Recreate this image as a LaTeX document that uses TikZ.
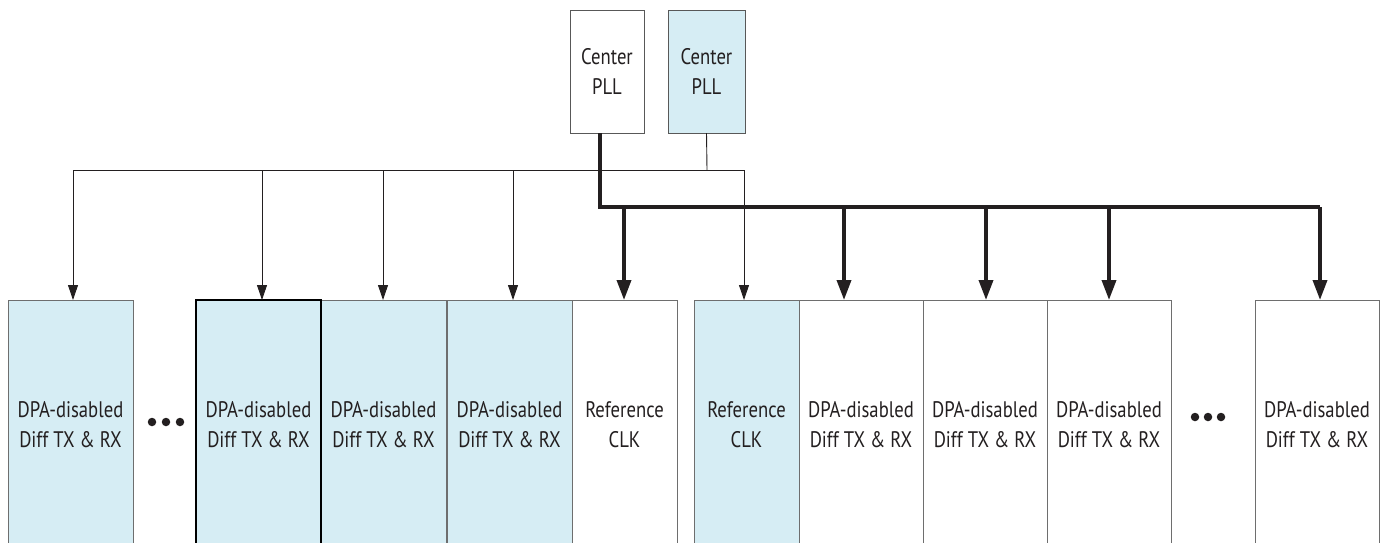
\documentclass[tikz,border=0pt]{standalone}
\usepackage{fontspec}
\setmainfont[FakeStretch=0.83]{PT Sans}
\usetikzlibrary{arrows.meta}
\definecolor{lblue}{RGB}{214,237,244}
\definecolor{edge}{RGB}{110,110,110}
\definecolor{ink}{RGB}{35,31,32}
\begin{document}
\begin{tikzpicture}[x=1pt,y=-1pt,
  box/.style={draw=edge,line width=1pt,rectangle,anchor=north west,inner sep=0pt,outer sep=0pt,
    minimum height=250,align=center,text=ink,font=\fontsize{22.5}{30}\selectfont},
  pll/.style={draw=edge!80!black,line width=1pt,rectangle,anchor=north west,inner sep=0pt,outer sep=0pt,
    minimum height=123,align=center,text=ink,font=\fontsize{22.5}{30}\selectfont},
  thinline/.style={line width=0.9pt,draw=ink},
  thinarrow/.style={line width=0.9pt,draw=ink,-{Triangle[length=15pt,width=10pt]}},
  thickline/.style={line width=3.6pt,draw=ink},
  thickarrow/.style={line width=3.6pt,draw=ink,-{Triangle[length=20pt,width=14pt]}},
  dot/.style={circle,fill=ink,inner sep=0pt,minimum size=8.5pt}]
\useasboundingbox (0,0) rectangle (1383,542);
% PLLs
\node[pll,minimum width=74] (pllA) at (570,10) {Center\\PLL};
\node[pll,minimum width=77,fill=lblue] (pllB) at (668,10) {Center\\PLL};
% boxes
\node[box,fill=lblue,minimum width=125] (b1) at (8,300) {DPA-disabled\\Diff TX \& RX};
\node[box,fill=lblue,minimum width=125] (b3) at (321,300) {DPA-disabled\\Diff TX \& RX};
\node[box,fill=lblue,minimum width=125] (b4) at (447,300) {DPA-disabled\\Diff TX \& RX};
\node[box,minimum width=105] (b5) at (572,300) {Reference\\CLK};
\node[box,fill=lblue,minimum width=105] (b6) at (694,300) {Reference\\CLK};
\node[box,minimum width=124] (b7) at (799,300) {DPA-disabled\\Diff TX \& RX};
\node[box,minimum width=124] (b8) at (923,300) {DPA-disabled\\Diff TX \& RX};
\node[box,minimum width=124] (b9) at (1047,300) {DPA-disabled\\Diff TX \& RX};
\node[box,minimum width=124] (b10) at (1255,300) {DPA-disabled\\Diff TX \& RX};
\node[box,fill=lblue,minimum width=125,draw=black,line width=1.5pt] (b2) at (196,300) {DPA-disabled\\Diff TX \& RX};
% dots
\node[dot] (d1) at (152,422) {};
\node[dot] (d2) at (166,422) {};
\node[dot] (d3) at (180,422) {};
\node[dot] (d4) at (1195,417) {};
\node[dot] (d5) at (1208,417) {};
\node[dot] (d6) at (1221,417) {};
% thin bus
\coordinate (tL) at (73,170);
\coordinate (tR) at (744,170);
\coordinate (tP) at (707,170);
\coordinate (t2) at (262,170);
\coordinate (t3) at (383,170);
\coordinate (t4) at (513,170);
\draw[thinline] (tL) -- (tR);
\draw[thinline] (pllB.south) -- (tP);
\draw[thinarrow] (tL) -- (tL |- b1.north);
\draw[thinarrow] (t2) -- (t2 |- b2.north);
\draw[thinarrow] (t3) -- (t3 |- b3.north);
\draw[thinarrow] (t4) -- (t4 |- b4.north);
\draw[thinarrow] (tR) -- (tR |- b6.north);
% thick bus
\coordinate (kS) at (600,133);
\coordinate (kC) at (600,207);
\coordinate (kR) at (1320,207);
\coordinate (k5) at (624,207);
\coordinate (k7) at (844,207);
\coordinate (k8) at (986,207);
\coordinate (k9) at (1109,207);
\draw[thickline] (kS |- pllA.south) -- (kC) -- (kR);
\draw[thickarrow] (kR) -- (kR |- b10.north);
\draw[thickarrow] (k5) -- (k5 |- b5.north);
\draw[thickarrow] (k7) -- (k7 |- b7.north);
\draw[thickarrow] (k8) -- (k8 |- b8.north);
\draw[thickarrow] (k9) -- (k9 |- b9.north);
\end{tikzpicture}
\end{document}
